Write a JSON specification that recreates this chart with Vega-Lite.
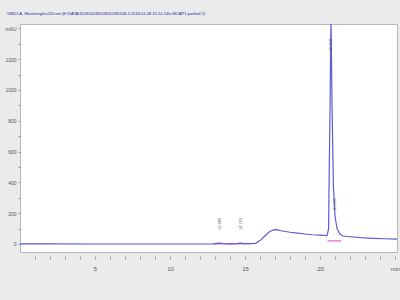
{
  "$schema": "https://vega.github.io/schema/vega-lite/v6.json",
  "width": 377,
  "height": 228,
  "autosize": "none",
  "padding": {"left": 20, "top": 24, "right": 3, "bottom": 48},
  "background": "#ebebeb",
  "config": {
    "view": {"fill": "white", "stroke": "#b8b8b8", "strokeWidth": 1},
    "font": "Liberation Sans"
  },
  "title": {
    "text": "VWD1 A, Wavelength=220 nm (E:\\DATA\\2018\\20180108\\20180108-4 2018-01-08 15-14-54\\s MCAP1 purified 2)",
    "anchor": "start",
    "offset": 8,
    "dx": 2,
    "fontSize": 4,
    "fontWeight": "normal",
    "color": "#2222aa",
    "font": "Liberation Sans"
  },
  "datasets": {
    "trace": [
      {"t": 0, "v": 1}, {"t": 2, "v": 1}, {"t": 5, "v": 0}, {"t": 8, "v": 0}, {"t": 10, "v": 0},
      {"t": 12, "v": 0}, {"t": 12.9, "v": 0}, {"t": 13.1, "v": 4}, {"t": 13.3, "v": 6}, {"t": 13.5, "v": 3},
      {"t": 13.9, "v": 1}, {"t": 14.5, "v": 2}, {"t": 14.7, "v": 5}, {"t": 14.9, "v": 3}, {"t": 15.3, "v": 2},
      {"t": 15.7, "v": 4}, {"t": 16.0, "v": 22}, {"t": 16.3, "v": 50}, {"t": 16.6, "v": 78}, {"t": 16.9, "v": 92},
      {"t": 17.1, "v": 93}, {"t": 17.4, "v": 86}, {"t": 18.0, "v": 76}, {"t": 18.5, "v": 70}, {"t": 19.0, "v": 65},
      {"t": 19.5, "v": 60}, {"t": 20.0, "v": 57}, {"t": 20.47, "v": 55}, {"t": 20.57, "v": 100}, {"t": 20.6, "v": 370},
      {"t": 20.67, "v": 900}, {"t": 20.73, "v": 1460}, {"t": 20.8, "v": 900}, {"t": 20.89, "v": 370}, {"t": 21.0, "v": 180},
      {"t": 21.13, "v": 100}, {"t": 21.33, "v": 65}, {"t": 21.53, "v": 52}, {"t": 22.0, "v": 47}, {"t": 22.7, "v": 41},
      {"t": 23.5, "v": 37}, {"t": 24.3, "v": 34}, {"t": 25.13, "v": 32}
    ],
    "bases": [
      {"t1": 12.9, "t2": 14.2, "v1": 0, "v2": 1},
      {"t1": 14.2, "t2": 15.3, "v1": 1, "v2": 2},
      {"t1": 20.5, "t2": 21.4, "v1": 20, "v2": 20}
    ],
    "labels": [
      {"t": 13.3, "v": 130, "lab": "13.285"},
      {"t": 14.7, "v": 130, "lab": "14.703"},
      {"t": 20.73, "v": 1290, "lab": "20.738"},
      {"t": 21.0, "v": 260, "lab": "21.025"}
    ]
  },
  "layer": [
    {
      "data": {"name": "bases"},
      "mark": {"type": "rule", "color": "#e040d0", "strokeWidth": 1},
      "encoding": {
        "x": {"field": "t1", "type": "quantitative"},
        "x2": {"field": "t2"},
        "y": {"field": "v1", "type": "quantitative"},
        "y2": {"field": "v2"}
      }
    },
    {
      "data": {"name": "trace"},
      "mark": {"type": "line", "color": "#5c5cd6", "strokeWidth": 1.2, "clip": true},
      "encoding": {
        "x": {
          "field": "t", "type": "quantitative",
          "scale": {"domain": [0, 25.13], "nice": false, "zero": false},
          "axis": {
            "title": null, "tickCount": 200, "format": "d",
            "values": [1,2,3,4,5,6,7,8,9,10,11,12,13,14,15,16,17,18,19,20,21,22,23,24,25],
            "labelExpr": "datum.value % 5 == 0 ? (datum.value == 25 ? 'min' : datum.label) : ''",
            "labelOverlap": false, "labelBound": false, "labelFlush": false,
            "offset": 4, "domain": false, "tickSize": 3, "tickColor": "#999999",
            "labelFontSize": 6, "labelColor": "#555555", "labelPadding": 6, "grid": false
          }
        },
        "y": {
          "field": "v", "type": "quantitative",
          "scale": {"domain": [-52, 1428], "nice": false, "zero": false},
          "axis": {
            "title": null, "tickCount": 200,
            "values": [0,100,200,300,400,500,600,700,800,900,1000,1100,1200,1300,1400],
            "labelExpr": "datum.value == 1400 ? 'mAU' : (datum.value % 200 == 0 ? datum.label : '')",
            "labelOverlap": false, "labelBound": false, "labelFlush": false,
            "domain": false, "tickSize": 2, "tickColor": "#999999",
            "labelFontSize": 5, "labelColor": "#555555", "labelPadding": 2, "grid": false,
            "format": "d"
          }
        }
      }
    },
    {
      "data": {"name": "labels"},
      "mark": {"type": "text", "angle": 270, "fontSize": 4, "color": "#555555", "align": "center", "baseline": "middle"},
      "encoding": {
        "x": {"field": "t", "type": "quantitative"},
        "y": {"field": "v", "type": "quantitative"},
        "text": {"field": "lab"}
      }
    }
  ]
}
